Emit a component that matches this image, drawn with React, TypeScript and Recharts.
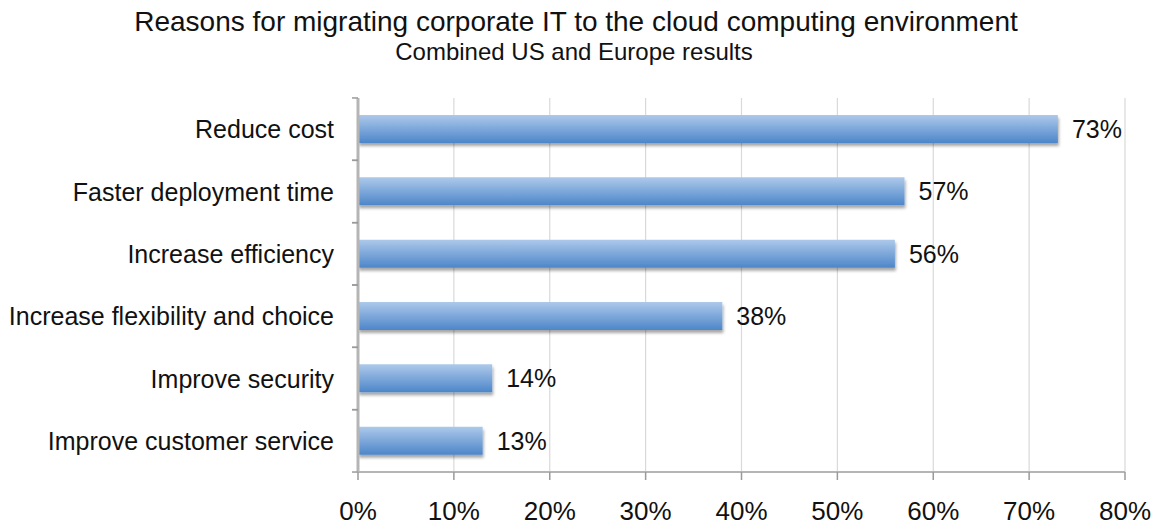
import React from "react";
import { BarChart, Bar, XAxis, YAxis, CartesianGrid, LabelList } from "recharts";

const categories = [
  "Reduce cost",
  "Faster deployment time",
  "Increase efficiency",
  "Increase flexibility and choice",
  "Improve security",
  "Improve customer service",
];
const values = [73, 57, 56, 38, 14, 13];
const xTicks = [0, 10, 20, 30, 40, 50, 60, 70, 80];

const data = categories.map((c, i) => ({ name: c, value: values[i] }));

const FONT = "'Liberation Sans', Arial, sans-serif";

const YTick = (props: any) => {
  const { x, y, payload } = props;
  const half = 31.2;
  return (
    <g>
      <line x1={x + 2} x2={x + 8} y1={y - half} y2={y - half} stroke="#9a9a9a" strokeWidth={1.5} />
      <line x1={x + 2} x2={x + 8} y1={y + half} y2={y + half} stroke="#9a9a9a" strokeWidth={1.5} />
      <text x={x - 16} y={y} dy={9} textAnchor="end" fontSize={25} fill="#111" fontFamily={FONT}>
        {payload.value}
      </text>
    </g>
  );
};

export default function App() {
  return (
    <div style={{ position: "absolute", left: 0, top: 0, width: 1155, height: 529, background: "#fff", fontFamily: FONT }}>
      <div style={{ position: "absolute", left: 0, width: 1152, top: 6, textAlign: "center", fontSize: 28, color: "#111", whiteSpace: "nowrap" }}>
        Reasons for migrating corporate IT to the cloud computing environment
      </div>
      <div style={{ position: "absolute", left: 0, width: 1148, top: 38, textAlign: "center", fontSize: 24, color: "#111", whiteSpace: "nowrap" }}>
        Combined US and Europe results
      </div>
      <BarChart
        width={1155}
        height={529}
        data={data}
        layout="vertical"
        margin={{ top: 98, right: 30, bottom: 0, left: 0 }}
        barCategoryGap={17}
      >
        <defs>
          <linearGradient id="barGrad" x1="0" y1="0" x2="0" y2="1">
            <stop offset="0%" stopColor="#adc9ea" />
            <stop offset="100%" stopColor="#4d86c9" />
          </linearGradient>
          <filter id="shadow" x="-5%" y="-20%" width="110%" height="160%">
            <feDropShadow dx="1" dy="3" stdDeviation="1.5" floodColor="#000" floodOpacity="0.35" />
          </filter>
        </defs>
        <CartesianGrid horizontal={false} vertical={true} stroke="#d9d9d9" strokeWidth={1.2} />
        <XAxis
          type="number"
          domain={[0, 80]}
          ticks={xTicks}
          tickFormatter={(v: number) => `${v}%`}
          height={57}
          axisLine={{ stroke: "#b5b5b5", strokeWidth: 2 }}
          tickLine={{ stroke: "#9a9a9a", strokeWidth: 1.5 }}
          tickSize={8}
          tick={{ fontSize: 26, fill: "#111", fontFamily: FONT }}
          tickMargin={22}
        />
        <YAxis
          type="category"
          dataKey="name"
          width={358}
          axisLine={{ stroke: "#b5b5b5", strokeWidth: 3 }}
          tickLine={false}
          tick={<YTick />}
          interval={0}
        />
        <Bar dataKey="value" fill="url(#barGrad)" isAnimationActive={false} filter="url(#shadow)">
          <LabelList
            dataKey="value"
            position="right"
            offset={14}
            formatter={(v: any) => `${v}%`}
            style={{ fontSize: 25, fill: "#111", fontFamily: FONT }}
          />
        </Bar>
      </BarChart>
    </div>
  );
}
